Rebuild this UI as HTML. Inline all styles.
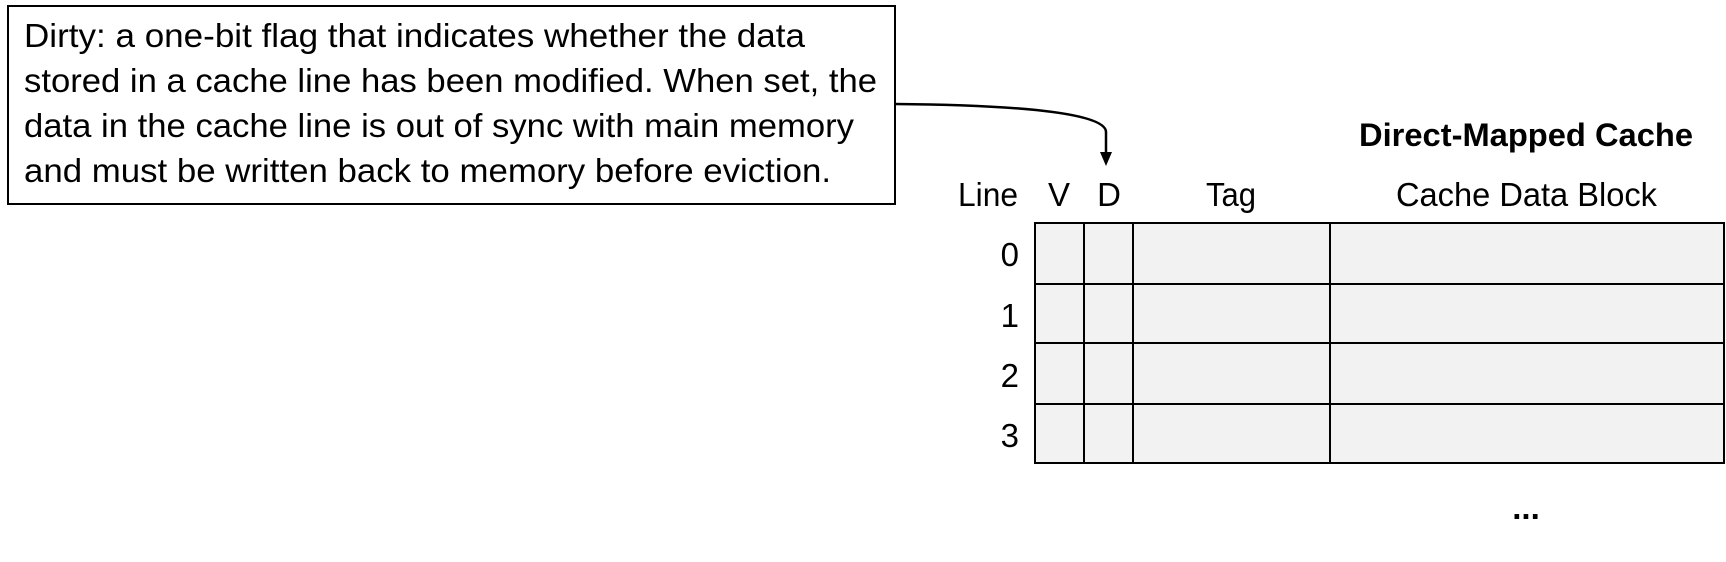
<!DOCTYPE html>
<html><head><meta charset="utf-8"><style>html,body{margin:0;padding:0;background:#fff}svg{display:block}</style></head>
<body>
<svg width="1726" height="562" viewBox="0 0 1726 562" xmlns="http://www.w3.org/2000/svg" font-family="Liberation Sans, sans-serif">
<rect x="8" y="6" width="887" height="198" fill="#fff" stroke="#000" stroke-width="2"/>
<g font-size="33" fill="#000">
<text x="24" y="47" textLength="781" lengthAdjust="spacingAndGlyphs">Dirty: a one-bit flag that indicates whether the data</text>
<text x="24" y="92" textLength="853" lengthAdjust="spacingAndGlyphs">stored in a cache line has been modified.  When set, the</text>
<text x="24" y="137" textLength="830" lengthAdjust="spacingAndGlyphs">data in the cache line is out of sync with main memory</text>
<text x="24" y="182" textLength="807" lengthAdjust="spacingAndGlyphs">and must be written back to memory before eviction.</text>
</g>
<path d="M895,104 C1010,105 1106,112 1106,132 L1106,153" fill="none" stroke="#000" stroke-width="2.5"/>
<polygon points="1100,152 1112,152 1106,166" fill="#000"/>
<text x="1359" y="146" font-size="32" font-weight="bold" textLength="334" lengthAdjust="spacingAndGlyphs">Direct-Mapped Cache</text>
<g font-size="33">
<text x="958" y="206" textLength="60" lengthAdjust="spacingAndGlyphs">Line</text>
<text x="1059" y="206" text-anchor="middle">V</text>
<text x="1109" y="206" text-anchor="middle">D</text>
<text x="1231" y="206" text-anchor="middle" textLength="50" lengthAdjust="spacingAndGlyphs">Tag</text>
<text x="1396" y="206" textLength="261" lengthAdjust="spacingAndGlyphs">Cache Data Block</text>
<text x="1019" y="266" text-anchor="end">0</text>
<text x="1019" y="327" text-anchor="end">1</text>
<text x="1019" y="387" text-anchor="end">2</text>
<text x="1019" y="447" text-anchor="end">3</text>
<text x="1526" y="519" text-anchor="middle" font-weight="bold">...</text>
</g>
<rect x="1035" y="223" width="689" height="240" fill="#f2f2f2" stroke="#000" stroke-width="2"/>
<g stroke="#000" stroke-width="2">
<line x1="1084" y1="223" x2="1084" y2="463"/>
<line x1="1133" y1="223" x2="1133" y2="463"/>
<line x1="1330" y1="223" x2="1330" y2="463"/>
<line x1="1035" y1="284" x2="1724" y2="284"/>
<line x1="1035" y1="343" x2="1724" y2="343"/>
<line x1="1035" y1="404" x2="1724" y2="404"/>
</g>
</svg>
</body></html>
